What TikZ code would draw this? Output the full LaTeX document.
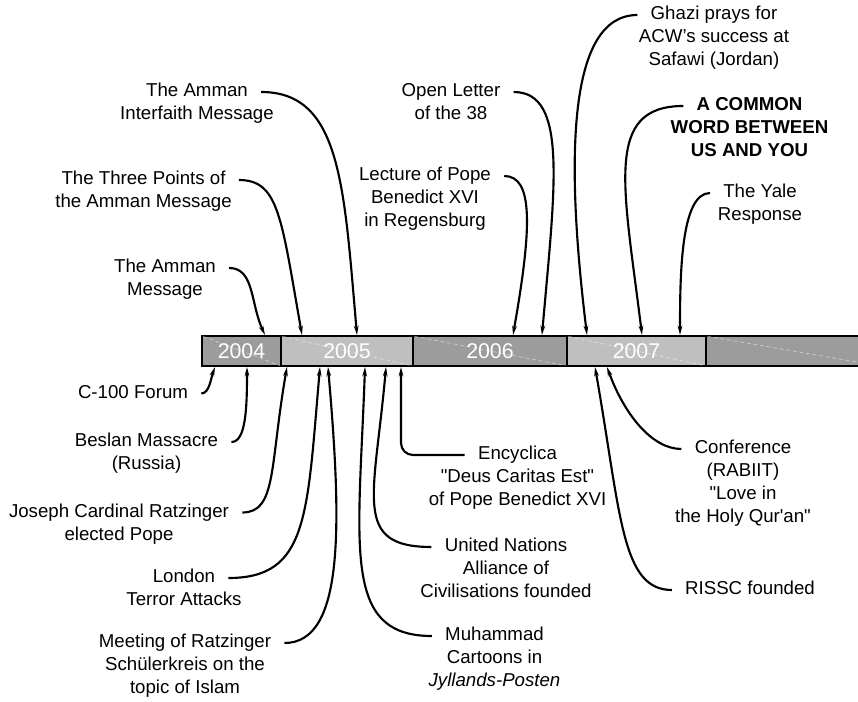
\documentclass[tikz,border=0pt]{standalone}
\usepackage{fontspec}
\setmainfont{Liberation Sans}[Ligatures=TeXOff]
\usepackage{tikz}
\usetikzlibrary{arrows.meta, positioning, calc}

\definecolor{bardark}{HTML}{9C9C9C}
\definecolor{barlight}{HTML}{BFBFBF}

\begin{document}
\begin{tikzpicture}[
    x=0.75pt, y=0.75pt,
    event/.style={font=\fontsize{14}{17.25}\selectfont, inner xsep=10pt, inner ysep=0pt, outer sep=0pt, text height=10pt, text depth=3pt},
    more/.style={font=\fontsize{14}{17.25}\selectfont, align=center, inner sep=0pt, outer sep=0pt, label distance=4.25pt},
    bold/.style={font=\fontsize{14}{17.25}\selectfont\bfseries},
    yearbox/.style={draw, line width=2pt, minimum height=22.5pt, inner sep=0pt, outer sep=0pt, text=white, font=\fontsize{16}{19}\selectfont},
    gloss/.style={white, opacity=0.5, line width=0.5pt, dash pattern=on 3pt off 2pt, shorten <=1pt, shorten >=1pt},
    arrow/.style={-{Stealth[length=7pt, width=3.5pt]}, line width=1.6pt},
]
    \useasboundingbox (0,0) rectangle (858,701);

    % time bar
    \node[yearbox, fill=bardark, minimum width=59.25pt, anchor=west] (y2004) at (202,350) {2004};
    \node[yearbox, fill=barlight, minimum width=99pt, right=0pt of y2004] (y2005) {2005};
    \node[yearbox, fill=bardark, minimum width=115.5pt, right=0pt of y2005] (y2006) {2006};
    \node[yearbox, fill=barlight, minimum width=104.25pt, right=0pt of y2006] (y2007) {2007};
    \node[yearbox, fill=bardark, minimum width=130.5pt, right=0pt of y2007] (ylater) {};
    \foreach \yr in {y2004,y2005,y2006,y2007,ylater}
        \draw[gloss] (\yr.north west) -- (\yr.south east);

    % events above the bar
    \node[event, label={[more]below:Message}] (amman) at (165,433) {The Amman};
    \node[event, label={[more]below:the Amman Message}] (threepts) at (143.5,521) {The Three Points of};
    \node[event, label={[more]below:Interfaith Message}] (interfaith) at (197,609) {The Amman};
    \node[event, label={[more]below:{Benedict XVI\\in Regensburg}}] (lecture) at (425,525) {Lecture of Pope};
    \node[event, label={[more]below:of the 38}] (openletter) at (451,609) {Open Letter};
    \node[event, label={[more]below:{ACW’s success at\\Safawi (Jordan)}}] (ghazi) at (714,686) {Ghazi prays for};
    \node[event, bold, label={[more, bold]below:{WORD BETWEEN\\US AND YOU}}] (acw) at (749.5,595) {A COMMON};
    \node[event, label={[more]below:Response}] (yale) at (760,508) {The Yale};

    % events below the bar
    \node[event] (c100) at (133,307.5) {C-100 Forum};
    \node[event, label={[more]below:(Russia)}] (beslan) at (146.5,259) {Beslan Massacre};
    \node[event, label={[more]below:elected Pope}] (pope) at (119,188.5) {Joseph Cardinal Ratzinger};
    \node[event, label={[more]below:Terror Attacks}] (london) at (184,123) {London};
    \node[event, label={[more]below:{Schülerkreis on the\\topic of Islam}}] (meeting) at (185,58) {Meeting of Ratzinger};
    \node[event, label={[more]below:{Cartoons in\\\textit{Jyllands-Posten}}}] (cartoons) at (494.5,65) {Muhammad};
    \node[event, label={[more]below:{Alliance of\\Civilisations founded}}] (unaoc) at (506,154) {United Nations};
    \node[event, label={[more]below:{"Deus Caritas Est"\\of Pope Benedict XVI}}] (encyc) at (517.5,246) {Encyclica};
    \node[event, label={[more]below:{(RABIIT)\\"Love in\\the Holy Qur'an"}}] (rabiit) at (743,252) {Conference};
    \node[event] (rissc) at (750,111) {RISSC founded};

    \draw[arrow] (amman.east) to[out=0, in=115, out distance=19pt, in distance=26pt] ($(y2004.north west)+(63,1)$);
    \draw[arrow] (threepts.east) to[out=0, in=100, out distance=30pt, in distance=90pt] ($(y2005.north west)+(21,1)$);
    \draw[arrow] (interfaith.east) to[out=0, in=95, out distance=60pt, in distance=112pt] ($(y2005.north west)+(76,1)$);
    \draw[arrow] (lecture.east) to[out=0, in=80, out distance=22pt, in distance=82pt] ($(y2006.north west)+(100,1)$);
    \draw[arrow] (openletter.east) to[out=0, in=85, out distance=41pt, in distance=112pt] ($(y2006.north west)+(129,1)$);
    \draw[arrow] (ghazi.west) to[out=180, in=97, out distance=52pt, in distance=135pt] ($(y2007.north west)+(20,1)$);
    \draw[arrow] (acw.west) to[out=180, in=97, out distance=60pt, in distance=112pt] ($(y2007.north west)+(75,1)$);
    \draw[arrow] (yale.west) to[out=180, in=90, out distance=22pt, in distance=45pt] ($(y2007.north west)+(113,1)$);

    \draw[arrow] (c100.east) to[out=0, in=250, out distance=6pt, in distance=9pt] ($(y2004.south west)+(13,-1)$);
    \draw[arrow] (beslan.east) to[out=0, in=270, out distance=11pt, in distance=30pt] ($(y2004.south west)+(45,-1)$);
    \draw[arrow] (pope.east) to[out=0, in=260, out distance=26pt, in distance=75pt] ($(y2005.south west)+(6,-1)$);
    \draw[arrow] (london.east) to[out=0, in=265, out distance=60pt, in distance=112pt] ($(y2005.south west)+(39,-1)$);
    \draw[arrow] (meeting.east) to[out=0, in=275, out distance=45pt, in distance=120pt] ($(y2005.south west)+(47,-1)$);
    \draw[arrow] (cartoons.west) to[out=180, in=268, out distance=68pt, in distance=135pt] ($(y2005.south west)+(84,-1)$);
    \draw[arrow] (unaoc.west) to[out=180, in=265, out distance=60pt, in distance=98pt] ($(y2005.south west)+(105,-1)$);
    \draw[arrow, rounded corners=9pt] (encyc.west) -| ($(y2005.south west)+(120,-1)$);
    \draw[arrow] (rabiit.west) to[out=180, in=290, out distance=22pt, in distance=38pt] ($(y2007.south west)+(40,-1)$);
    \draw[arrow] (rissc.west) to[out=180, in=280, out distance=38pt, in distance=112pt] ($(y2007.south west)+(28,-1)$);
\end{tikzpicture}
\end{document}
